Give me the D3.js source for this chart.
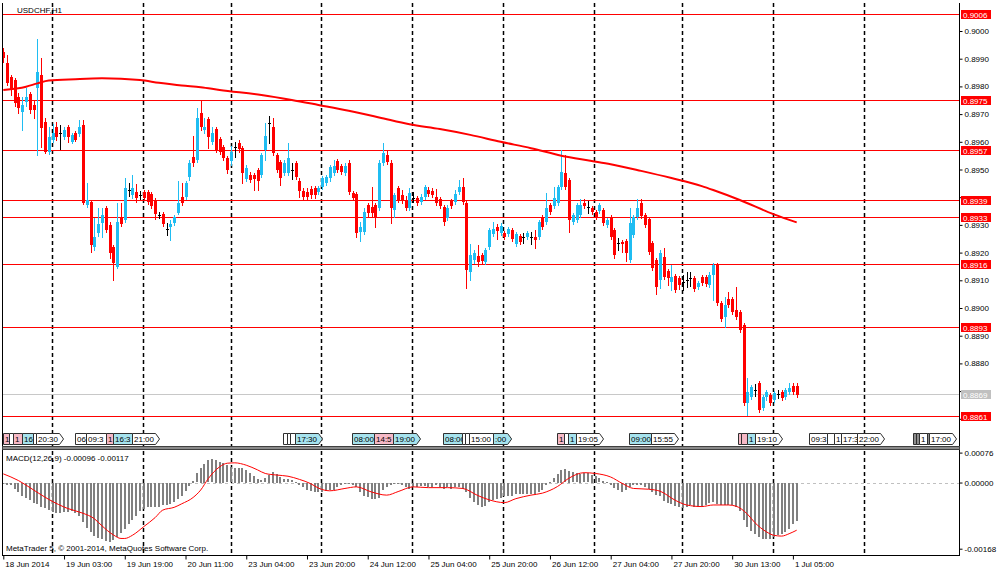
<!DOCTYPE html>
<html>
<head>
<meta charset="utf-8">
<script src="https://cdnjs.cloudflare.com/ajax/libs/d3/7.8.5/d3.min.js"></script>
<style>
  html, body { margin: 0; padding: 0; background: #fff; }
  svg text { font-family: "Liberation Sans", Arial, sans-serif; font-size: 8px; fill: #000; }
</style>
</head>
<body>
<svg id="chart" width="1000" height="574"></svg>
<script>
/* USDCHF H1, one value per bar, bar 0 = 18 Jun 11:00 */
var opens = [
 0.89924,0.89884,0.89834,0.89823,0.89762,0.89708,0.89744,0.89773,0.89733,0.89794,
 0.89841,0.89671,0.89563,0.89607,0.89653,0.89632,0.89617,0.89653,0.89599,0.89632,
 0.89628,0.89661,0.89372,0.89383,0.89220,0.89271,0.89307,0.89361,0.89300,0.89220,
 0.89148,0.89329,0.89318,0.89426,0.89408,0.89419,0.89408,0.89419,0.89419,0.89412,
 0.89390,0.89336,0.89339,0.89285,0.89292,0.89307,0.89343,0.89401,0.89401,0.89473,
 0.89545,0.89534,0.89704,0.89643,0.89682,0.89599,0.89646,0.89610,0.89581,0.89542,
 0.89531,0.89581,0.89596,0.89578,0.89466,0.89480,0.89480,0.89498,0.89480,0.89570,
 0.89668,0.89653,0.89552,0.89527,0.89487,0.89487,0.89498,0.89523,0.89458,0.89422,
 0.89419,0.89430,0.89433,0.89419,0.89437,0.89451,0.89469,0.89487,0.89531,0.89513,
 0.89487,0.89523,0.89415,0.89412,0.89274,0.89274,0.89372,0.89365,0.89372,0.89361,
 0.89523,0.89552,0.89523,0.89354,0.89433,0.89408,0.89390,0.89361,0.89397,0.89397,
 0.89383,0.89401,0.89426,0.89422,0.89401,0.89394,0.89365,0.89325,0.89386,0.89383,
 0.89419,0.89437,0.89379,0.89130,0.89173,0.89188,0.89191,0.89166,0.89220,0.89267,
 0.89292,0.89271,0.89271,0.89267,0.89282,0.89231,0.89260,0.89256,0.89256,0.89256,
 0.89256,0.89256,0.89329,0.89310,0.89372,0.89368,0.89379,0.89437,0.89487,0.89462,
 0.89310,0.89318,0.89336,0.89379,0.89365,0.89361,0.89347,0.89350,0.89354,0.89300,
 0.89329,0.89282,0.89235,0.89238,0.89242,0.89173,0.89264,0.89329,0.89379,0.89336,
 0.89321,0.89235,0.89173,0.89101,0.89184,0.89134,0.89094,0.89116,0.89108,0.89094,
 0.89101,0.89108,0.89108,0.89076,0.89112,0.89112,0.89083,0.89119,0.89159,0.89018,
 0.88968,0.89033,0.89033,0.88993,0.88986,0.88939,0.88657,0.88679,0.88704,0.88729,
 0.88639,0.88679,0.88686,0.88668,0.88690,0.88697,0.88679,0.88697,0.88718,0.88718
];
var highs = [
 0.89939,0.89913,0.89841,0.89830,0.89776,0.89762,0.89794,0.89780,0.89751,0.89971,
 0.89903,0.89686,0.89653,0.89664,0.89671,0.89661,0.89653,0.89661,0.89632,0.89639,
 0.89679,0.89679,0.89451,0.89390,0.89325,0.89361,0.89361,0.89368,0.89310,0.89227,
 0.89379,0.89379,0.89469,0.89451,0.89480,0.89448,0.89422,0.89426,0.89426,0.89419,
 0.89397,0.89347,0.89347,0.89307,0.89318,0.89336,0.89458,0.89451,0.89458,0.89534,
 0.89621,0.89722,0.89751,0.89686,0.89690,0.89653,0.89653,0.89617,0.89588,0.89549,
 0.89585,0.89599,0.89607,0.89585,0.89516,0.89491,0.89487,0.89505,0.89560,0.89668,
 0.89693,0.89686,0.89560,0.89534,0.89534,0.89596,0.89523,0.89531,0.89469,0.89433,
 0.89433,0.89440,0.89440,0.89440,0.89477,0.89480,0.89516,0.89534,0.89538,0.89520,
 0.89523,0.89534,0.89422,0.89419,0.89310,0.89361,0.89379,0.89437,0.89379,0.89534,
 0.89596,0.89570,0.89534,0.89415,0.89440,0.89426,0.89404,0.89433,0.89419,0.89404,
 0.89412,0.89444,0.89437,0.89433,0.89430,0.89401,0.89372,0.89372,0.89394,0.89426,
 0.89462,0.89469,0.89386,0.89231,0.89209,0.89227,0.89199,0.89217,0.89289,0.89310,
 0.89303,0.89307,0.89278,0.89292,0.89289,0.89274,0.89267,0.89271,0.89278,0.89274,
 0.89282,0.89318,0.89336,0.89415,0.89379,0.89437,0.89444,0.89570,0.89552,0.89469,
 0.89343,0.89379,0.89394,0.89394,0.89386,0.89368,0.89354,0.89379,0.89361,0.89325,
 0.89336,0.89289,0.89253,0.89246,0.89249,0.89361,0.89336,0.89394,0.89394,0.89343,
 0.89329,0.89242,0.89181,0.89209,0.89217,0.89141,0.89155,0.89123,0.89116,0.89119,
 0.89130,0.89130,0.89116,0.89097,0.89119,0.89119,0.89130,0.89162,0.89162,0.89025,
 0.89040,0.89058,0.89040,0.89076,0.88993,0.88946,0.88747,0.88722,0.88726,0.88736,
 0.88686,0.88704,0.88693,0.88700,0.88704,0.88704,0.88711,0.88729,0.88729,0.88729
];
var lows = [
 0.89888,0.89805,0.89769,0.89729,0.89704,0.89643,0.89729,0.89704,0.89686,0.89552,
 0.89581,0.89560,0.89556,0.89599,0.89607,0.89574,0.89610,0.89599,0.89596,0.89603,
 0.89621,0.89375,0.89365,0.89202,0.89209,0.89260,0.89256,0.89274,0.89181,0.89101,
 0.89144,0.89296,0.89310,0.89404,0.89397,0.89383,0.89394,0.89390,0.89375,0.89361,
 0.89321,0.89325,0.89296,0.89264,0.89246,0.89300,0.89339,0.89372,0.89394,0.89462,
 0.89513,0.89527,0.89643,0.89632,0.89578,0.89592,0.89563,0.89556,0.89534,0.89487,
 0.89516,0.89545,0.89563,0.89451,0.89458,0.89455,0.89426,0.89426,0.89473,0.89534,
 0.89596,0.89552,0.89491,0.89444,0.89480,0.89480,0.89466,0.89466,0.89401,0.89394,
 0.89394,0.89397,0.89397,0.89412,0.89430,0.89444,0.89458,0.89480,0.89491,0.89484,
 0.89480,0.89412,0.89390,0.89256,0.89242,0.89267,0.89329,0.89329,0.89292,0.89354,
 0.89516,0.89520,0.89307,0.89329,0.89383,0.89379,0.89354,0.89354,0.89383,0.89372,
 0.89375,0.89394,0.89404,0.89401,0.89372,0.89361,0.89300,0.89318,0.89361,0.89375,
 0.89412,0.89375,0.89072,0.89101,0.89162,0.89152,0.89162,0.89159,0.89213,0.89260,
 0.89249,0.89264,0.89249,0.89260,0.89242,0.89224,0.89231,0.89235,0.89249,0.89231,
 0.89217,0.89249,0.89285,0.89303,0.89339,0.89361,0.89372,0.89430,0.89430,0.89274,
 0.89303,0.89310,0.89329,0.89361,0.89343,0.89339,0.89321,0.89343,0.89300,0.89292,
 0.89249,0.89181,0.89209,0.89202,0.89170,0.89166,0.89256,0.89321,0.89325,0.89292,
 0.89195,0.89137,0.89051,0.89072,0.89105,0.89083,0.89065,0.89058,0.89069,0.89065,
 0.89076,0.89079,0.89061,0.89069,0.89083,0.89079,0.89076,0.89029,0.89011,0.88953,
 0.88931,0.89004,0.88978,0.88960,0.88913,0.88650,0.88614,0.88672,0.88682,0.88625,
 0.88632,0.88668,0.88650,0.88661,0.88675,0.88668,0.88672,0.88690,0.88690,0.88679
];
var closes = [
 0.89903,0.89812,0.89787,0.89740,0.89722,0.89733,0.89762,0.89715,0.89715,0.89852,
 0.89650,0.89563,0.89617,0.89632,0.89617,0.89632,0.89643,0.89617,0.89625,0.89607,
 0.89653,0.89379,0.89390,0.89227,0.89256,0.89303,0.89336,0.89282,0.89199,0.89162,
 0.89310,0.89303,0.89433,0.89426,0.89433,0.89397,0.89408,0.89397,0.89383,0.89368,
 0.89339,0.89336,0.89303,0.89285,0.89303,0.89329,0.89379,0.89379,0.89451,0.89523,
 0.89523,0.89686,0.89653,0.89653,0.89617,0.89632,0.89570,0.89563,0.89542,0.89498,
 0.89563,0.89581,0.89574,0.89487,0.89505,0.89462,0.89466,0.89458,0.89552,0.89621,
 0.89668,0.89560,0.89498,0.89469,0.89523,0.89542,0.89498,0.89473,0.89422,0.89401,
 0.89401,0.89408,0.89408,0.89433,0.89469,0.89473,0.89509,0.89513,0.89498,0.89491,
 0.89513,0.89419,0.89397,0.89271,0.89292,0.89347,0.89343,0.89343,0.89329,0.89523,
 0.89560,0.89527,0.89361,0.89408,0.89390,0.89390,0.89361,0.89415,0.89397,0.89379,
 0.89401,0.89437,0.89412,0.89408,0.89379,0.89368,0.89310,0.89361,0.89368,0.89412,
 0.89437,0.89383,0.89137,0.89191,0.89199,0.89166,0.89170,0.89209,0.89282,0.89285,
 0.89278,0.89296,0.89256,0.89285,0.89249,0.89267,0.89238,0.89256,0.89271,0.89256,
 0.89246,0.89310,0.89292,0.89361,0.89347,0.89397,0.89437,0.89491,0.89437,0.89318,
 0.89336,0.89372,0.89372,0.89368,0.89365,0.89347,0.89329,0.89372,0.89307,0.89318,
 0.89256,0.89191,0.89235,0.89231,0.89199,0.89307,0.89329,0.89361,0.89332,0.89300,
 0.89202,0.89144,0.89076,0.89199,0.89112,0.89108,0.89112,0.89065,0.89083,0.89094,
 0.89101,0.89108,0.89069,0.89090,0.89090,0.89087,0.89119,0.89155,0.89018,0.88960,
 0.89011,0.89011,0.88986,0.88968,0.88921,0.88657,0.88697,0.88715,0.88704,0.88632,
 0.88679,0.88697,0.88657,0.88693,0.88690,0.88675,0.88704,0.88711,0.88697,0.88686
];

/* moving average, read at these bars */
var maBars = [0,6,9,12,19,26,36,41,47,52,57,68,76,83,91,99,107,115,123,131,139,147,155,160,168,176,184,187,194,203,209];
var maVals = [0.89787,0.89799,0.89811,0.89821,0.89826,0.89829,0.89823,0.89813,0.89803,0.89797,0.89787,0.89769,
              0.89751,0.89733,0.89712,0.89688,0.89663,0.89646,0.89625,0.89600,0.89577,0.89550,0.89531,0.89519,
              0.89495,0.89469,0.89440,0.89426,0.89390,0.89338,0.89309];

/* MACD(12,26,9) main value per bar */
var macd = [
 -0.00001,-0.00004,-0.00006,-0.00014,-0.00024,-0.00034,-0.00039,-0.00044,-0.00050,-0.00053,
 -0.00060,-0.00064,-0.00069,-0.00074,-0.00076,-0.00075,-0.00074,-0.00074,-0.00072,-0.00075,
 -0.00085,-0.00098,-0.00114,-0.00124,-0.00135,-0.00140,-0.00142,-0.00147,-0.00149,-0.00144,
 -0.00137,-0.00126,-0.00117,-0.00104,-0.00094,-0.00084,-0.00072,-0.00065,-0.00060,-0.00060,
 -0.00061,-0.00060,-0.00057,-0.00057,-0.00053,-0.00049,-0.00041,-0.00032,-0.00020,-0.00008,
  0.00005, 0.00023, 0.00038, 0.00048, 0.00056, 0.00059, 0.00058, 0.00053, 0.00050, 0.00044,
  0.00039, 0.00038, 0.00038, 0.00036, 0.00032, 0.00023, 0.00017, 0.00009, 0.00006, 0.00011,
  0.00020, 0.00027, 0.00022, 0.00014, 0.00008, 0.00008, 0.00006, 0.00001,-0.00005,-0.00011,
 -0.00017,-0.00020,-0.00022,-0.00023,-0.00023,-0.00020,-0.00019,-0.00017,-0.00011,-0.00005,
 -0.00002,-0.00001,-0.00004,-0.00011,-0.00024,-0.00033,-0.00036,-0.00040,-0.00040,-0.00037,
 -0.00018,-0.00011,-0.00004,-0.00001,-0.00001,-0.00006,-0.00010,-0.00015,-0.00011,-0.00009,
 -0.00007,-0.00008,-0.00011,-0.00011,-0.00006,-0.00011,-0.00015,-0.00011,-0.00014,-0.00011,
 -0.00011,-0.00015,-0.00023,-0.00038,-0.00049,-0.00056,-0.00061,-0.00058,-0.00049,-0.00044,
 -0.00040,-0.00038,-0.00034,-0.00032,-0.00032,-0.00029,-0.00029,-0.00029,-0.00029,-0.00027,
 -0.00027,-0.00023,-0.00018,-0.00006, 0.00001, 0.00011, 0.00022, 0.00033, 0.00034, 0.00030,
  0.00026, 0.00023, 0.00022, 0.00023, 0.00023, 0.00020, 0.00017, 0.00011, 0.00005, 0.00001,
 -0.00006,-0.00013,-0.00017,-0.00022,-0.00018,-0.00011,-0.00005,-0.00004,-0.00005,-0.00009,
 -0.00015,-0.00024,-0.00030,-0.00033,-0.00046,-0.00050,-0.00054,-0.00058,-0.00062,-0.00063,
 -0.00060,-0.00057,-0.00060,-0.00061,-0.00060,-0.00057,-0.00051,-0.00049,-0.00053,-0.00057,
 -0.00057,-0.00057,-0.00057,-0.00060,-0.00071,-0.00095,-0.00112,-0.00121,-0.00129,-0.00138,
 -0.00142,-0.00142,-0.00142,-0.00138,-0.00133,-0.00129,-0.00125,-0.00116,-0.00104,-0.00096
];
/* signal line, read at these bars */
var sigBars = [0,4,8,12,17,21,24,26,29,31,32,34,37,40,42,45,47,50,52,54,57,59,61,64,67,69,72,75,78,81,83,86,
               90,93,97,101,104,108,112,117,121,125,128,132,135,139,142,146,149,153,156,160,163,166,170,173,
               177,180,184,187,191,193,196,198,201,203,205,207,209];
var sigVals = [0.00022,0.00005,-0.00019,-0.00043,-0.00066,-0.00078,-0.00092,-0.00110,-0.00133,-0.00142,-0.00142,
               -0.00134,-0.00112,-0.00089,-0.00070,-0.00063,-0.00054,-0.00038,-0.00019,0.00010,0.00040,0.00049,
               0.00050,0.00044,0.00032,0.00023,0.00019,0.00016,0.00008,-0.00003,-0.00014,-0.00021,
               -0.00015,-0.00011,-0.00024,-0.00032,-0.00023,-0.00011,-0.00013,-0.00013,-0.00015,-0.00033,
               -0.00044,-0.00051,-0.00041,-0.00032,-0.00027,-0.00010,0.00011,0.00025,0.00023,0.00014,
               -0.00002,-0.00015,-0.00017,-0.00022,-0.00045,-0.00057,-0.00061,-0.00057,-0.00057,-0.00060,
               -0.00080,-0.00102,-0.00125,-0.00134,-0.00136,-0.00130,-0.00121];

var levels     = [0.9006, 0.8975, 0.8957, 0.8939, 0.8933, 0.8916, 0.8893, 0.8861];
var bidPrice   = 0.8869;
var priceTicks = [0.9000,0.8990,0.8980,0.8970,0.8960,0.8950,0.8940,0.8930,0.8920,0.8910,0.8900,0.8890,0.8880,0.8870,0.8860];
var macdTicks  = [0.00076, 0, -0.00168];

var timeBars   = [0,16,32,48,64,80,96,112,128,144,160,176,192,208];
var timeLabels = ['18 Jun 2014','19 Jun 03:00','19 Jun 19:00','20 Jun 11:00','23 Jun 04:00','23 Jun 20:00',
                  '24 Jun 12:00','25 Jun 04:00','25 Jun 20:00','26 Jun 12:00','27 Jun 04:00','27 Jun 20:00',
                  '30 Jun 13:00','1 Jul 05:00'];
var gridBars   = [12.83,36.67,59.98,83.69,107.67,131.64,155.6,178.8,202.8,226.7];

/* calendar events: bar position, visible text, kind (p high, c medium, w low, g holiday) */
var eventBars  = [0,1.5,2.55,4.9,7.8,8.6, 18.9,21.8,27.05,28.9,33.9, 73.7,74.7,75.5,76.8, 91.9,97.7,102.7,
                  115.8,120.8,121.6,122.7,129, 145.9,147.7,148.8,150.9, 164.8,170.6, 193.5,194.3,195.9,198,
                  212.2,217,218.8,220.7,224.9, 239.7,240.5,241.2,243.3,243.9];
var eventTexts = ['1','','1','16','','20:30', '06','09:3','1','16:3','21:00', '','','','17:30', '08:00','14:5','19:00',
                  '08:00','','','15:00',':00', '1','','1','19:05', '09:00','15:55', '','','1','19:10',
                  '09:3','','1','17:3','22:00', '','','1','','17:00'];
var eventKinds = ['p','w','p','c','w','w', 'w','w','p','c','w', 'w','w','w','c', 'c','p','c',
                  'c','w','w','w','c', 'p','w','c','w', 'c','w', 'p','p','c','w',
                  'w','w','w','w','w', 'g','g','w','g','w'];

var svg = d3.select('#chart');
var L = 2.5, R = 959.5, mainTop = 3, mainBottom = 446.5, subTop = 450.5, subBottom = 555.5;

var x  = d3.scaleLinear().domain([0, 209]).range([3.3, 796.7]);
var y  = d3.scaleLinear().domain([0.8880, 0.9000]).range([363.4, 31]);
var ym = d3.scaleLinear().domain([-0.00168, 0.00076]).range([548.7, 452.6]);

var bull = '#1fbdf2', bear = '#ff0000', doji = '#000000';
var px = function (i) { return Math.round(x(i)); };

var defs = svg.append('defs');
defs.append('clipPath').attr('id', 'clipMain')
    .append('rect').attr('x', 3).attr('y', mainTop).attr('width', R - 3.5).attr('height', mainBottom - mainTop);
defs.append('clipPath').attr('id', 'clipSub')
    .append('rect').attr('x', 3).attr('y', subTop).attr('width', R - 3.5).attr('height', subBottom - subTop);

/* vertical dashed grid through both windows */
svg.append('g').selectAll('line')
   .data(gridBars)
   .enter().append('line')
     .attr('x1', function (d) { return px(d) + 0.5; })
     .attr('x2', function (d) { return px(d) + 0.5; })
     .attr('y1', mainTop).attr('y2', subBottom)
     .attr('stroke', '#000').attr('stroke-width', 1.5).attr('stroke-dasharray', '4,3');

var main = svg.append('g').attr('clip-path', 'url(#clipMain)');

/* horizontal levels and bid line */
main.selectAll('line.level')
    .data(levels)
    .enter().append('line')
      .attr('class', 'level')
      .attr('x1', 3).attr('x2', R)
      .attr('y1', function (d) { return Math.round(y(d)) + 0.5; })
      .attr('y2', function (d) { return Math.round(y(d)) + 0.5; })
      .attr('stroke', '#ff0000').attr('stroke-width', 1.2);
main.append('line')
    .attr('x1', 3).attr('x2', R)
    .attr('y1', Math.round(y(bidPrice)) + 0.5).attr('y2', Math.round(y(bidPrice)) + 0.5)
    .attr('stroke', '#c8c8c8').attr('stroke-width', 1);

/* candles */
var idx = d3.range(opens.length);
var colour = function (i) {
    return closes[i] > opens[i] ? bull : closes[i] < opens[i] ? bear : doji;
};
var cg = main.append('g').attr('shape-rendering', 'crispEdges');
cg.selectAll('line.wick')
  .data(idx)
  .enter().append('line')
    .attr('class', 'wick')
    .attr('x1', function (i) { return px(i) + 0.5; })
    .attr('x2', function (i) { return px(i) + 0.5; })
    .attr('y1', function (i) { return Math.round(y(highs[i])); })
    .attr('y2', function (i) { return Math.round(y(lows[i])) + 1; })
    .attr('stroke', colour);
cg.selectAll('rect.body')
  .data(idx)
  .enter().append('rect')
    .attr('class', 'body')
    .attr('x', function (i) { return px(i) - 1; })
    .attr('width', 3)
    .attr('y', function (i) { return Math.round(y(Math.max(opens[i], closes[i]))); })
    .attr('height', function (i) {
        return Math.max(1, Math.round(y(Math.min(opens[i], closes[i]))) - Math.round(y(Math.max(opens[i], closes[i]))));
    })
    .attr('fill', colour);

/* moving average */
var maLine = d3.line()
    .x(function (d, k) { return x(maBars[k]); })
    .y(function (d) { return y(d); })
    .curve(d3.curveMonotoneX);
main.append('path')
    .attr('d', maLine(maVals))
    .attr('fill', 'none').attr('stroke', '#ff0000').attr('stroke-width', 2);

/* calendar event boxes */
var measure = svg.append('text').attr('x', -100).attr('y', -100);
function textW(s) {
    if (!s) { return 0; }
    measure.text(s);
    return measure.node().getComputedTextLength();
}
var evTop = 433.5, evBot = 444.5, evMid = (evTop + evBot) / 2;
var fills = { p: '#f6b9c6', c: '#a6e3ee', w: '#ffffff', g: '#8c8c8c' };
var eg = svg.append('g');
for (var k = 0; k < eventBars.length; k++) {
    var xs = Math.round(x(eventBars[k])) + 0.5;
    var natural = eventTexts[k] ? textW(eventTexts[k]) + 3 : 3;
    var gap = k + 1 < eventBars.length ? Math.round(x(eventBars[k + 1])) + 0.5 - xs : Infinity;
    var w, arrow;
    if (gap < natural + 5) { w = gap; arrow = false; } else { w = natural; arrow = true; }
    w = Math.max(w, 2);
    var p = 'M' + xs + ',' + evTop + 'H' + (xs + w) +
            (arrow ? 'L' + (xs + w + 4) + ',' + evMid + 'L' + (xs + w) + ',' + evBot : 'V' + evBot) +
            'H' + xs + 'Z';
    eg.append('path').attr('d', p)
      .attr('fill', fills[eventKinds[k]]).attr('stroke', '#303030').attr('stroke-width', 1);
    if (eventTexts[k]) {
        defs.append('clipPath').attr('id', 'ev' + k)
            .append('rect').attr('x', xs).attr('y', evTop).attr('width', w + (arrow ? 3 : 0)).attr('height', evBot - evTop);
        eg.append('text')
          .attr('clip-path', 'url(#ev' + k + ')')
          .attr('x', xs + 1.5).attr('y', evBot - 2.5)
          .text(eventTexts[k]);
    }
}
measure.remove();

/* MACD window */
var sub = svg.append('g').attr('clip-path', 'url(#clipSub)');
sub.append('line')
   .attr('x1', 3).attr('x2', R)
   .attr('y1', Math.round(ym(0)) + 0.5).attr('y2', Math.round(ym(0)) + 0.5)
   .attr('stroke', '#c0c0c0').attr('stroke-dasharray', '3,3');
sub.append('g').attr('shape-rendering', 'crispEdges')
   .selectAll('rect')
   .data(macd)
   .enter().append('rect')
     .attr('x', function (d, i) { return px(i) - 1; })
     .attr('width', 2)
     .attr('y', function (d) { return Math.round(Math.min(ym(0), ym(d))); })
     .attr('height', function (d) { return Math.max(1, Math.round(Math.abs(ym(d) - ym(0)))); })
     .attr('fill', '#808080');
var sigLine = d3.line()
    .x(function (d, k) { return x(sigBars[k]); })
    .y(function (d) { return ym(d); })
    .curve(d3.curveMonotoneX);
sub.append('path')
   .attr('d', sigLine(sigVals))
   .attr('fill', 'none').attr('stroke', '#ff0000').attr('stroke-width', 1);

/* frame and window separator */
var fg = svg.append('g').attr('shape-rendering', 'crispEdges');
fg.append('line').attr('x1', L).attr('x2', L).attr('y1', mainTop).attr('y2', subBottom).attr('stroke', '#000');
fg.append('line').attr('x1', R).attr('x2', R).attr('y1', mainTop).attr('y2', subBottom).attr('stroke', '#000');
fg.append('line').attr('x1', L).attr('x2', R).attr('y1', subBottom).attr('y2', subBottom).attr('stroke', '#000');
fg.append('rect').attr('x', L).attr('y', 446.5).attr('width', R - L).attr('height', 3)
  .attr('fill', '#8a8a8a').attr('stroke', '#404040');

/* price axis; a tick label sitting under a level label is hidden, as in the terminal */
var marked = levels.concat([bidPrice]);
var yAxis = d3.axisRight(y).tickValues(priceTicks).tickSize(3).tickPadding(2)
              .tickFormat(function (d) { return d.toFixed(4); });
var ya = svg.append('g').attr('transform', 'translate(' + R + ',0)').call(yAxis);
ya.select('.domain').remove();
ya.selectAll('text').attr('font-family', null).attr('font-size', null)
  .filter(function (d) {
      return marked.some(function (v) { return Math.abs(y(v) - y(d)) < 4; });
  })
  .remove();

var mAxis = d3.axisRight(ym).tickValues(macdTicks).tickSize(3).tickPadding(2)
              .tickFormat(function (d) { return d.toFixed(5); });
var ma = svg.append('g').attr('transform', 'translate(' + R + ',0)').call(mAxis);
ma.select('.domain').remove();
ma.selectAll('text').attr('font-family', null).attr('font-size', null);

/* level and bid labels on the price axis */
var lg = svg.append('g');
levels.forEach(function (v) {
    var yy = Math.round(y(v)) + 0.5;
    lg.append('rect').attr('x', 961).attr('y', yy - 4.5).attr('width', 30).attr('height', 9).attr('fill', '#ff0000');
    lg.append('text').attr('x', 963).attr('y', yy + 3).style('fill', '#fff').text(v.toFixed(4));
});
(function () {
    var yy = Math.round(y(bidPrice)) + 0.5;
    lg.append('rect').attr('x', 961).attr('y', yy - 4.5).attr('width', 30).attr('height', 9).attr('fill', '#c0c0c0');
    lg.append('text').attr('x', 963).attr('y', yy + 3).style('fill', '#fff').text(bidPrice.toFixed(4));
})();

/* time axis */
var xAxis = d3.axisBottom(x).tickValues(timeBars).tickSize(4).tickPadding(2)
              .tickFormat(function (d, i) { return timeLabels[i]; });
var xa = svg.append('g').attr('transform', 'translate(0,' + subBottom + ')').call(xAxis);
xa.select('.domain').remove();
xa.selectAll('text').attr('font-family', null).attr('font-size', null)
  .attr('text-anchor', 'start').attr('x', 1.5).attr('dy', null).attr('y', 11.5);

/* captions */
svg.append('text').attr('x', 17).attr('y', 12.5).text('USDCHF,H1');
svg.append('text').attr('x', 6).attr('y', 461).text('MACD(12,26,9) -0.00096 -0.00117');
svg.append('text').attr('x', 6).attr('y', 551).text('MetaTrader 5, \u00a9 2001-2014, MetaQuotes Software Corp.');
</script>
</body>
</html>
